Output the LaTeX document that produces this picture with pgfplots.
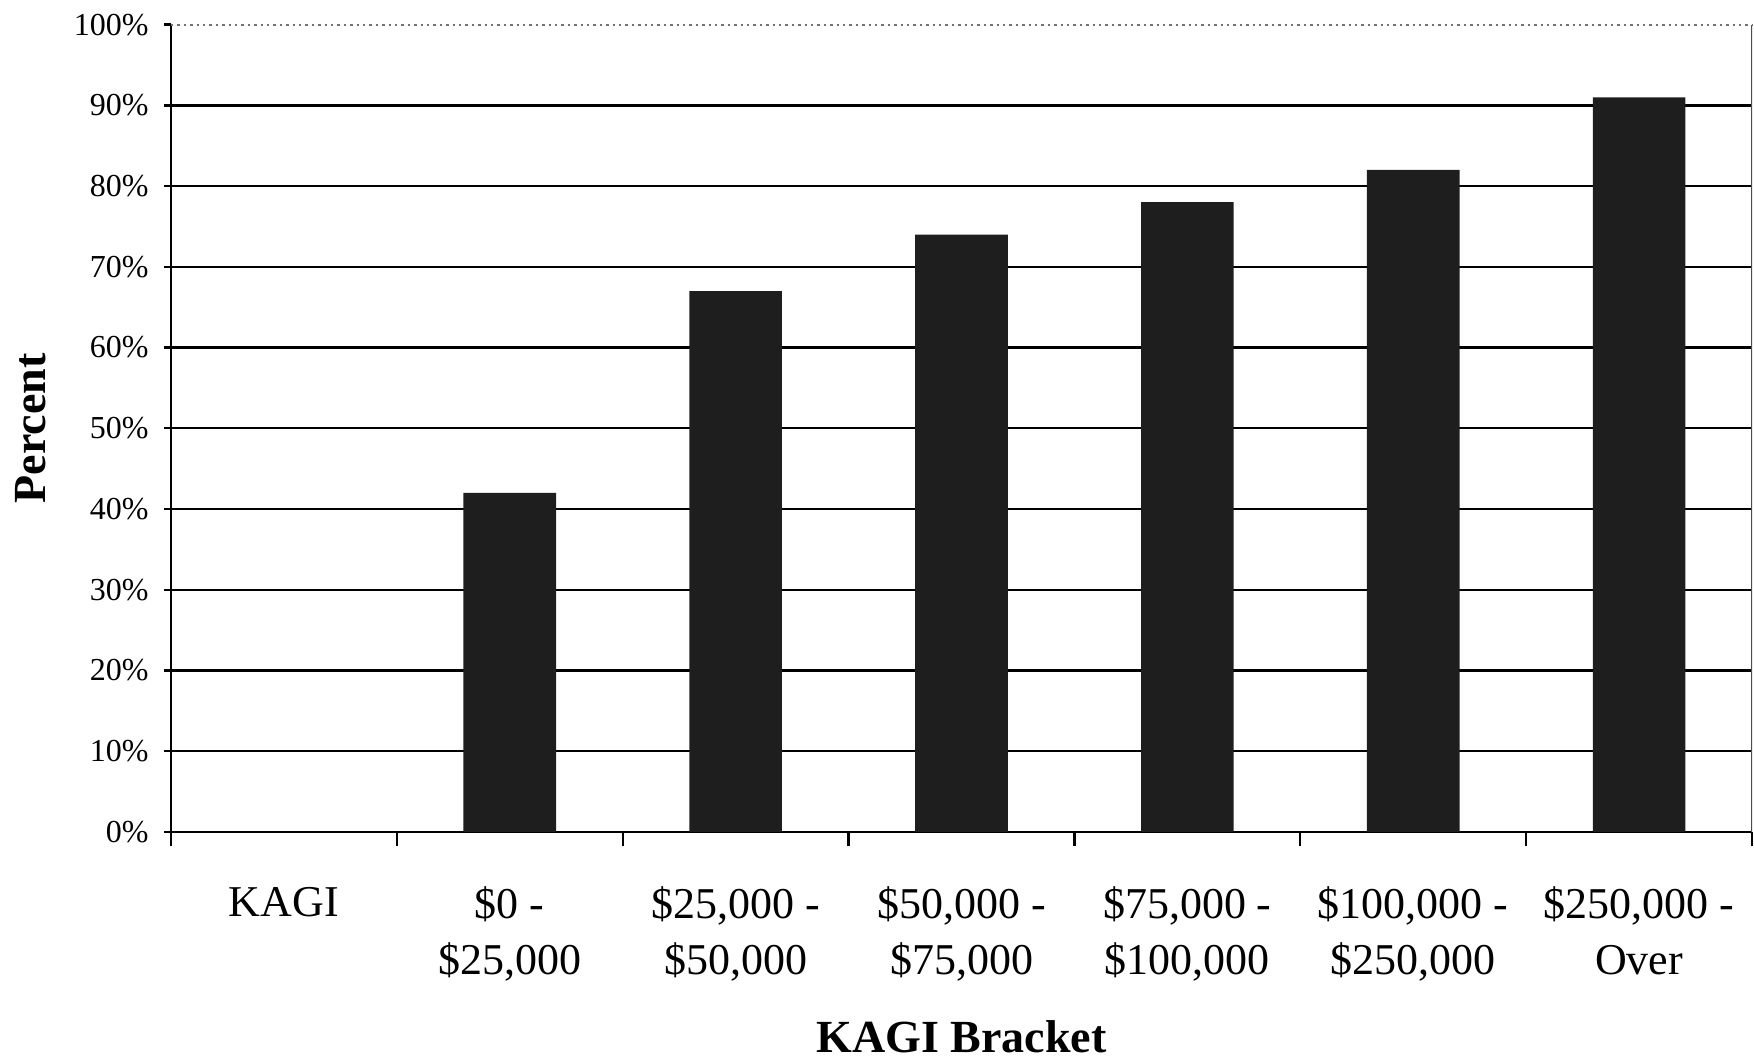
\documentclass[border=0pt]{standalone}
\usepackage{fontspec}
\setmainfont{Liberation Serif}
\usepackage{pgfplots}
\pgfplotsset{compat=1.18}

\definecolor{barfill}{HTML}{1E1E1E}

\begin{document}
\begin{tikzpicture}
\begin{axis}[
  scale only axis,
  width=395.25pt, height=201.85pt,
  xmin=-0.5, xmax=6.5,
  ymin=0, ymax=100,
  axis x line*=bottom, axis y line*=left,
  axis line style={black, line width=0.6pt},
  ybar, bar width=0.41,
  % category boundaries carry the ticks, names sit between them
  xtick={-0.5,0.5,...,6.5},
  x tick label as interval,
  xticklabels={KAGI, {\$0 -\\\$25,000}, {\$25,000 -\\\$50,000}, {\$50,000 -\\\$75,000},
               {\$75,000 -\\\$100,000}, {\$100,000 -\\\$250,000}, {\$250,000 -\\Over}},
  major tick length=3.6pt,
  tick align=outside,
  tick style={black, line width=0.6pt},
  xticklabel style={font=\fontsize{11}{14}\selectfont, align=center, anchor=north, yshift=-6.6pt},
  % percent scale: short outward marks drawn as minor ticks
  ytick={0,10,...,90},
  extra y ticks={100},
  extra y tick style={grid style={black!55, densely dotted, line width=0.5pt}},
  every major y tick/.append style={draw=none},
  minor ytick={0,10,...,100},
  minor tick length=1.8pt,
  every minor y tick/.append style={black, line width=0.6pt},
  yticklabel={\pgfmathprintnumber[assume math mode=true]{\tick}\%},
  yticklabel style={font=\fontsize{8}{10}\selectfont, anchor=east, xshift=1.5pt},
  ymajorgrids,
  grid style={black, line width=0.6pt},
  xlabel={\textbf{KAGI Bracket}},
  xlabel style={font=\fontsize{11.5}{14}\selectfont, at={(rel axis cs:0.5,0)}, anchor=base, yshift=-55pt},
  ylabel={\textbf{Percent}},
  ylabel style={font=\fontsize{11.5}{14}\selectfont, at={(rel axis cs:0,0.5)}, anchor=center, yshift=35pt},
]
\addplot[fill=barfill, draw=none] coordinates {(1,42) (2,67) (3,74) (4,78) (5,82) (6,91)};
\draw[black!70, line width=0.5pt] (rel axis cs:1,0) -- (rel axis cs:1,1);
\end{axis}
\pgfresetboundingbox
\path[use as bounding box] (-42.75pt,-56.5pt) rectangle (395.75pt,208pt);
\end{tikzpicture}
\end{document}
